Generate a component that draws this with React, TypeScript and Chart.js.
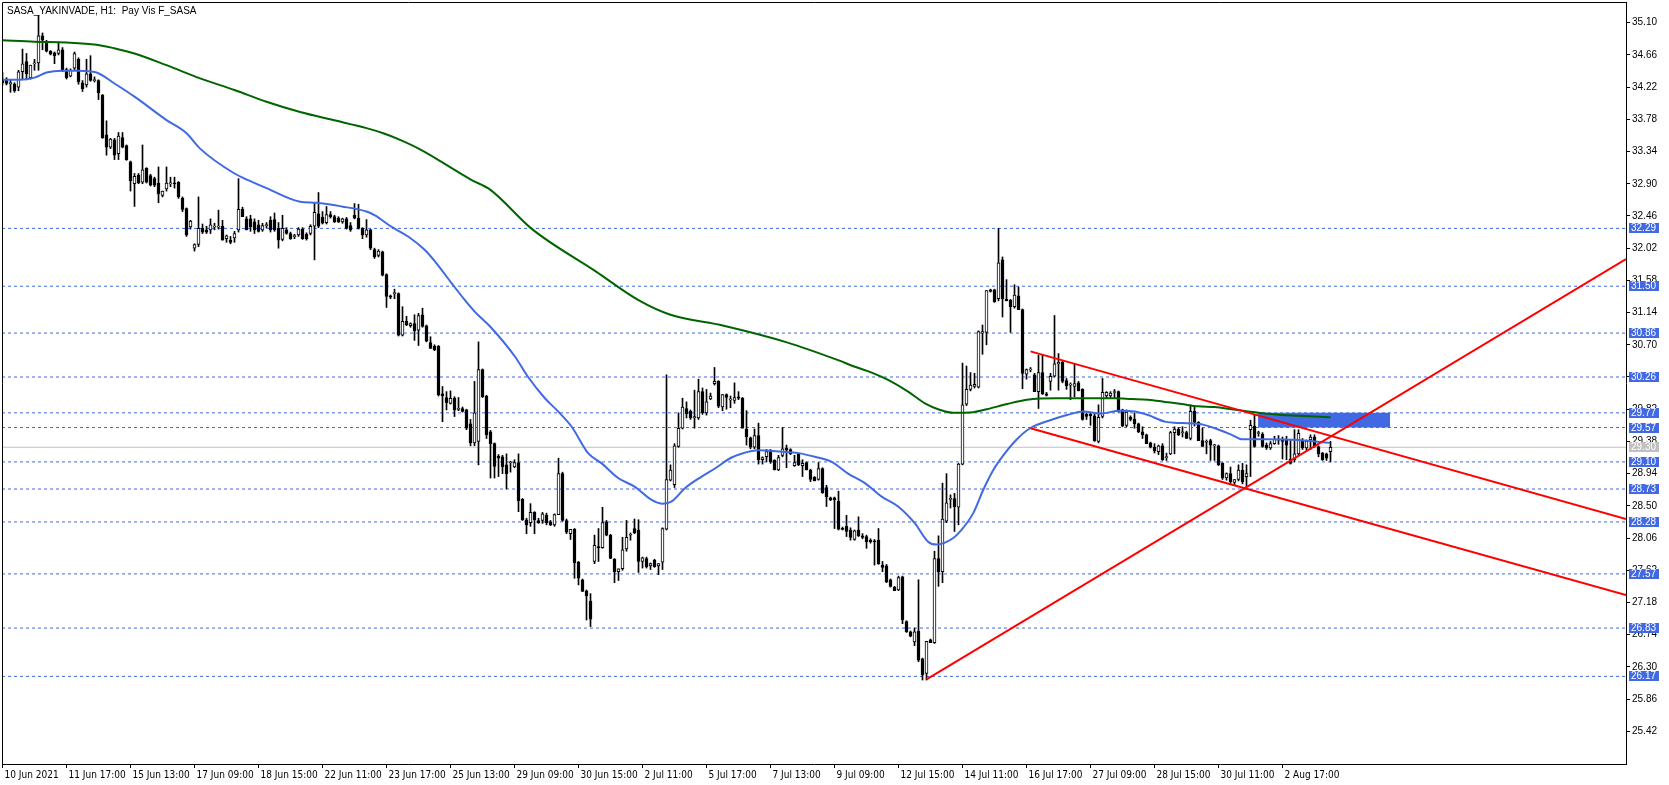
import React, { useEffect, useRef } from 'react';
import { Chart, registerables } from 'chart.js';

Chart.register(...registerables);

const TITLE = 'SASA_YAKINVADE, H1:  Pay Vis F_SASA';

const TIME_LABELS = [
  '10 Jun 2021', '11 Jun 17:00', '15 Jun 13:00', '17 Jun 09:00', '18 Jun 15:00', '22 Jun 11:00',
  '23 Jun 17:00', '25 Jun 13:00', '29 Jun 09:00', '30 Jun 15:00', '2 Jul 11:00', '5 Jul 17:00',
  '7 Jul 13:00', '9 Jul 09:00', '12 Jul 15:00', '14 Jul 11:00', '16 Jul 17:00', '27 Jul 09:00',
  '28 Jul 15:00', '30 Jul 11:00', '2 Aug 17:00',
];
const BARS_PER_LABEL = 16;

const PRICE_TICKS = [
  35.10, 34.66, 34.22, 33.78, 33.34, 32.90, 32.46, 32.02, 31.58, 31.14, 30.70, 30.26,
  29.82, 29.38, 28.94, 28.50, 28.06, 27.62, 27.18, 26.74, 26.30, 25.86, 25.42,
];

const LEVELS = [32.29, 31.50, 30.86, 30.26, 29.77, 29.57, 29.10, 28.73, 28.28, 27.57, 26.83, 26.17];
const LAST_PRICE = 29.30;

// [open, high, low, close] per H1 bar
const CANDLES: number[][] = [
  [34.33,34.42,34.25,34.28],[34.32,34.35,34.25,34.27],[34.27,34.32,34.15,34.28],[34.26,34.28,34.15,34.17],
  [34.22,34.45,34.17,34.43],[34.43,34.74,34.32,34.54],[34.57,34.68,34.32,34.40],[34.35,34.52,34.33,34.52],
  [34.54,34.60,34.45,34.55],[34.55,35.20,34.45,34.92],[34.92,34.96,34.73,34.86],[34.84,34.86,34.70,34.71],
  [34.71,34.72,34.66,34.67],[34.69,34.70,34.54,34.65],[34.68,34.83,34.66,34.73],[34.73,34.76,34.43,34.46],
  [34.46,34.48,34.33,34.35],[34.37,34.47,34.36,34.45],[34.48,34.70,34.46,34.68],[34.60,34.62,34.26,34.29],
  [34.28,34.31,34.16,34.20],[34.25,34.60,34.22,34.40],[34.40,34.65,34.30,34.31],[34.31,34.36,34.29,34.32],
  [34.31,34.32,34.05,34.14],[34.11,34.12,33.52,33.53],[33.57,33.76,33.29,33.40],[33.40,33.52,33.38,33.51],
  [33.50,33.52,33.23,33.29],[33.31,33.60,33.23,33.55],[33.53,33.60,33.39,33.40],[33.42,33.43,33.22,33.23],
  [33.20,33.21,32.80,32.94],[32.90,33.04,32.59,33.00],[33.02,33.04,32.90,32.91],[32.92,33.43,32.90,33.09],
  [33.11,33.12,32.91,32.92],[33.01,33.03,32.87,32.88],[32.97,32.99,32.86,32.88],[32.91,33.13,32.64,32.76],
  [32.74,32.80,32.72,32.80],[32.83,33.13,32.80,32.91],[32.90,32.99,32.86,32.91],[32.91,32.99,32.84,32.90],
  [32.92,32.93,32.70,32.72],[32.70,32.72,32.52,32.55],[32.56,32.57,32.18,32.20],[32.31,32.40,32.28,32.39],
  [32.02,32.08,31.98,32.07],[32.07,32.72,32.04,32.29],[32.29,32.35,32.22,32.24],[32.27,32.32,32.22,32.24],
  [32.27,32.42,32.22,32.34],[32.31,32.36,32.27,32.32],[32.31,32.54,32.28,32.32],[32.32,32.40,32.13,32.13],
  [32.15,32.20,32.10,32.19],[32.13,32.18,32.08,32.10],[32.16,32.25,32.10,32.22],[32.27,32.97,32.24,32.55],
  [32.55,32.58,32.45,32.45],[32.42,32.45,32.27,32.27],[32.42,32.47,32.25,32.31],[32.38,32.42,32.22,32.27],
  [32.34,32.40,32.24,32.25],[32.27,32.36,32.25,32.33],[32.33,32.37,32.30,32.34],[32.40,32.45,32.24,32.27],
  [32.41,32.50,32.25,32.27],[32.29,32.37,32.02,32.13],[32.14,32.47,32.12,32.29],[32.27,32.30,32.21,32.22],
  [32.22,32.24,32.14,32.15],[32.18,32.21,32.15,32.19],[32.20,32.30,32.18,32.28],[32.28,32.30,32.14,32.15],
  [32.21,32.23,32.13,32.15],[32.22,32.34,32.20,32.32],[32.32,32.63,31.86,32.51],[32.49,32.78,32.30,32.32],
  [32.44,32.52,32.35,32.36],[32.37,32.59,32.35,32.48],[32.48,32.52,32.43,32.45],[32.45,32.47,32.37,32.38],
  [32.43,32.45,32.37,32.38],[32.38,32.43,32.36,32.42],[32.42,32.44,32.28,32.29],[32.33,32.37,32.25,32.27],
  [32.47,32.63,32.42,32.43],[32.43,32.62,32.28,32.29],[32.29,32.30,32.15,32.20],[32.20,32.41,32.17,32.27],
  [32.27,32.28,32.00,32.02],[32.00,32.02,31.88,31.90],[31.92,32.00,31.90,31.98],[31.97,31.98,31.64,31.65],
  [31.66,31.67,31.21,31.36],[31.37,31.38,31.33,31.35],[31.40,31.46,31.33,31.41],[31.40,31.41,30.82,30.83],
  [30.83,31.22,30.82,31.02],[31.02,31.09,30.96,30.97],[30.96,31.00,30.94,30.99],[30.99,31.11,30.76,30.89],
  [30.90,31.13,30.69,31.10],[31.11,31.20,30.94,30.95],[30.96,30.97,30.74,30.75],[30.73,30.81,30.65,30.65],
  [30.68,30.70,30.62,30.63],[30.68,30.69,30.00,30.02],[30.03,30.13,29.65,30.00],[29.98,30.06,29.81,29.91],
  [29.90,30.07,29.89,29.97],[29.97,29.99,29.72,29.81],[29.82,29.98,29.80,29.83],[29.83,29.85,29.78,29.79],
  [29.81,29.82,29.54,29.56],[29.62,29.68,29.32,29.36],[29.36,30.20,29.32,29.77],[29.38,30.74,29.06,30.36],
  [30.36,30.37,29.98,29.99],[30.00,30.01,29.42,29.47],[29.51,29.53,28.88,29.35],[29.35,29.36,28.88,29.04],
  [29.18,29.20,28.90,29.15],[29.17,29.19,28.94,29.03],[29.06,29.21,28.73,28.94],[29.09,29.11,28.96,29.10],
  [29.03,29.13,29.02,29.09],[29.09,29.21,28.42,28.57],[28.59,28.60,28.30,28.31],[28.31,28.33,28.12,28.24],
  [28.27,28.53,28.22,28.41],[28.41,28.42,28.12,28.31],[28.30,28.33,28.26,28.27],[28.30,28.41,28.26,28.39],
  [28.37,28.40,28.24,28.27],[28.28,28.30,28.23,28.24],[28.24,28.39,28.22,28.38],[28.38,29.15,28.38,28.94],
  [28.94,28.96,28.29,28.30],[28.30,28.32,28.12,28.14],[28.12,28.18,28.04,28.18],[28.18,28.19,27.51,27.72],
  [27.73,27.74,27.42,27.51],[27.49,27.50,27.33,27.33],[27.34,27.35,26.94,27.27],[27.20,27.30,26.85,26.95],
  [27.74,28.10,27.71,27.96],[27.94,28.19,27.74,27.93],[27.93,28.48,27.92,28.27],[28.28,28.30,28.09,28.10],
  [28.10,28.11,27.78,27.78],[27.77,27.78,27.45,27.60],[27.60,27.64,27.48,27.64],[27.64,28.07,27.62,27.90],
  [27.91,28.30,27.88,28.07],[28.10,28.13,28.03,28.11],[28.19,28.32,28.12,28.13],[28.17,28.31,27.59,27.74],
  [27.74,27.80,27.65,27.79],[27.78,27.80,27.65,27.67],[27.68,27.72,27.63,27.71],[27.76,27.77,27.66,27.67],
  [27.68,27.71,27.56,27.71],[27.73,28.20,27.63,28.19],[28.18,30.29,28.17,28.86],[28.85,29.06,28.84,28.99],
  [28.79,29.35,28.75,29.32],[29.31,29.77,29.30,29.56],[29.56,29.97,29.55,29.85],[29.83,29.92,29.70,29.76],
  [29.79,29.81,29.68,29.70],[29.70,30.08,29.56,29.72],[29.70,30.23,29.68,30.06],[30.06,30.11,29.75,29.77],
  [29.77,30.09,29.74,29.92],[29.96,30.04,29.95,30.00],[30.17,30.39,30.15,30.20],[30.20,30.21,29.84,29.86],
  [29.85,30.02,29.80,30.02],[30.02,30.03,29.82,29.98],[29.95,30.00,29.84,29.96],[29.94,30.18,29.90,29.98],
  [29.99,30.06,29.95,29.97],[29.97,29.98,29.56,29.56],[29.55,29.80,29.33,29.44],[29.43,29.44,29.28,29.30],
  [29.30,29.55,29.28,29.46],[29.46,29.63,29.07,29.13],[29.13,29.17,29.07,29.16],[29.17,29.27,29.10,29.24],
  [29.25,29.27,29.08,29.10],[29.12,29.13,28.99,28.99],[28.99,29.19,28.98,29.16],[29.19,29.57,29.17,29.28],
  [29.29,29.33,29.02,29.26],[29.27,29.28,29.20,29.21],[29.05,29.19,29.04,29.09],[29.21,29.22,29.05,29.06],
  [29.05,29.13,28.90,29.08],[29.09,29.10,28.99,28.99],[28.99,29.00,28.83,28.86],[28.89,28.90,28.84,28.84],
  [28.86,29.09,28.85,29.01],[29.01,29.02,28.67,28.68],[28.75,28.78,28.49,28.62],[28.61,28.62,28.57,28.58],
  [28.61,28.62,28.19,28.58],[28.56,28.70,28.17,28.18],[28.19,28.21,28.17,28.18],[28.22,28.37,28.08,28.15],
  [28.17,28.20,28.03,28.07],[28.04,28.17,28.03,28.16],[28.17,28.35,28.08,28.09],[28.09,28.12,28.05,28.07],
  [28.08,28.10,27.92,28.01],[28.03,28.05,27.99,28.01],[28.02,28.04,27.69,28.01],[28.03,28.19,27.70,27.71],
  [27.69,27.74,27.60,27.66],[27.68,27.70,27.45,27.46],[27.49,27.50,27.39,27.40],[27.39,27.40,27.34,27.34],
  [27.35,27.54,27.34,27.52],[27.53,27.54,26.89,26.94],[26.92,26.93,26.77,26.78],[26.78,26.79,26.71,26.72],
  [26.64,26.83,26.59,26.78],[26.79,27.49,26.37,26.39],[26.41,26.42,26.12,26.19],[26.21,26.65,26.12,26.65],
  [26.67,26.68,26.63,26.63],[26.63,27.88,26.62,27.78],[27.78,28.09,27.40,27.60],[27.60,28.81,27.45,28.32],
  [28.29,28.94,28.27,28.54],[28.59,28.65,28.47,28.60],[28.60,28.67,28.15,28.49],[28.48,29.08,28.24,29.07],
  [29.07,30.45,29.06,29.88],[29.89,30.41,29.87,30.09],[30.09,30.32,30.07,30.15],[30.13,30.31,30.11,30.16],
  [30.12,30.89,30.11,30.88],[30.86,30.97,30.57,30.88],[30.87,31.44,30.70,31.44],[31.45,31.46,31.42,31.43],
  [31.45,31.46,31.28,31.29],[31.33,32.29,31.30,31.82],[31.86,31.90,31.08,31.33],[31.32,31.59,31.30,31.30],
  [31.31,31.32,30.87,31.22],[31.22,31.52,31.20,31.38],[31.37,31.49,31.18,31.18],[31.18,31.19,30.10,30.31],
  [30.30,30.37,30.23,30.36],[30.36,30.39,30.33,30.37],[30.29,30.31,30.06,30.06],[30.06,30.56,29.83,30.32],
  [30.32,30.56,30.02,30.03],[30.03,30.05,30.00,30.01],[30.20,30.31,30.08,30.27],[30.27,31.10,30.26,30.44],
  [30.44,30.58,30.08,30.46],[30.46,30.48,30.18,30.20],[30.21,30.24,30.09,30.14],[30.15,30.18,29.95,30.16],
  [30.13,30.44,29.99,30.17],[30.18,30.20,30.07,30.07],[30.09,30.10,29.67,29.68],[29.75,29.77,29.68,29.72],
  [29.75,29.77,29.60,29.73],[29.73,29.76,29.38,29.39],[29.38,29.88,29.36,29.71],[29.72,30.24,29.70,30.05],
  [30.00,30.06,29.97,30.05],[30.00,30.06,29.98,30.04],[30.05,30.09,29.97,30.06],[30.06,30.07,29.78,29.79],
  [29.81,29.82,29.58,29.59],[29.60,29.81,29.58,29.78],[29.71,29.73,29.66,29.68],[29.68,29.77,29.56,29.62],
  [29.62,29.63,29.50,29.51],[29.51,29.58,29.42,29.47],[29.47,29.48,29.35,29.35],[29.36,29.37,29.29,29.30],
  [29.30,29.35,29.22,29.25],[29.24,29.33,29.20,29.32],[29.32,29.35,29.12,29.13],[29.16,29.22,29.12,29.17],
  [29.21,29.52,29.20,29.50],[29.50,29.58,29.21,29.55],[29.55,29.57,29.46,29.47],[29.50,29.58,29.44,29.51],
  [29.50,29.52,29.42,29.42],[29.42,29.88,29.40,29.79],[29.79,29.86,29.59,29.64],[29.64,29.65,29.39,29.39],
  [29.39,29.56,29.31,29.31],[29.37,29.40,29.21,29.38],[29.39,29.41,29.12,29.33],[29.32,29.34,29.12,29.33],
  [29.32,29.33,29.05,29.06],[29.08,29.09,28.86,28.88],[28.88,28.95,28.85,28.94],[28.94,29.03,28.80,28.83],
  [28.82,28.86,28.78,28.86],[28.86,29.06,28.84,28.99],[28.99,29.08,28.80,28.83],[28.90,29.06,28.76,28.94],
  [29.54,29.67,28.90,29.60],[29.59,29.74,29.30,29.31],[29.49,29.52,29.45,29.50],[29.48,29.50,29.30,29.31],
  [29.33,29.36,29.27,29.29],[29.29,29.38,29.27,29.35],[29.35,29.45,29.34,29.41],[29.40,29.46,29.34,29.41],
  [29.40,29.44,29.14,29.38],[29.40,29.45,29.13,29.33],[29.14,29.40,29.07,29.08],[29.13,29.54,29.10,29.21],
  [29.21,29.54,29.19,29.49],[29.38,29.42,29.27,29.29],[29.29,29.40,29.26,29.38],[29.40,29.47,29.27,29.44],
  [29.44,29.47,29.30,29.32],[29.31,29.32,29.17,29.21],[29.22,29.23,29.12,29.13],[29.21,29.22,29.12,29.15],
  [29.24,29.38,29.10,29.30],
];

// moving averages read as [bar index, value]
const BLUE_MA: number[][] = [
  [0,34.32],[4,34.32],[8,34.35],[11,34.42],[15,34.445],[19,34.445],[23.5,34.42],[28,34.27],[33,34.09],
  [41,33.77],[46,33.59],[49.4,33.38],[58,33.04],[61.4,32.95],[66,32.84],[74.4,32.655],[78.5,32.64],
  [84.8,32.59],[91,32.52],[93,32.47],[97.3,32.31],[101.4,32.18],[105.6,31.995],[108.1,31.84],[112.3,31.54],
  [115.6,31.31],[118.1,31.15],[121.9,30.95],[128.1,30.54],[131.4,30.26],[135.6,29.97],[138.9,29.79],
  [142.3,29.58],[146.4,29.22],[149.8,29.08],[153.9,28.88],[158.1,28.76],[162.3,28.58],[164.8,28.53],
  [167.3,28.56],[170.6,28.74],[174.8,28.90],[178.1,29.01],[182.3,29.16],[187.3,29.25],[189,29.26],
  [194.8,29.24],[198.9,29.22],[203.1,29.17],[207.3,29.10],[211.4,28.94],[215.6,28.81],[219.8,28.625],
  [223.9,28.49],[228.1,28.26],[231.4,28.01],[233.5,27.97],[237.7,28.06],[239.4,28.15],[242.7,28.40],
  [245.2,28.72],[247.7,28.99],[250.2,29.19],[253.6,29.41],[256.9,29.56],[261.9,29.67],[266.1,29.74],
  [270.2,29.79],[274.4,29.76],[279.4,29.80],[283.1,29.79],[286.4,29.74],[290.6,29.65],[294.8,29.63],
  [298.9,29.62],[303.1,29.56],[307.3,29.47],[309.8,29.41],[315.6,29.41],[324,29.40],[328.1,29.38],
  [331.9,29.36],
];
const GREEN_MA: number[][] = [
  [0,34.86],[8,34.84],[16,34.83],[23.5,34.80],[28,34.75],[33,34.68],[41,34.52],[49.4,34.34],[58,34.18],
  [66,34.02],[74.4,33.88],[82.7,33.77],[91,33.66],[95.2,33.59],[99.4,33.50],[104.4,33.37],[117.3,32.95],
  [121.9,32.82],[132.4,32.28],[148.4,31.70],[159,31.31],[167,31.11],[180.3,30.96],[196.3,30.73],
  [208.9,30.49],[213.1,30.40],[217.3,30.32],[221.4,30.22],[226.4,30.06],[230.6,29.90],[234.4,29.81],
  [237.7,29.77],[242.7,29.78],[246.1,29.82],[251.1,29.89],[256.1,29.95],[263.6,29.97],[271.9,29.97],
  [278.1,29.97],[282.3,29.96],[286.4,29.95],[290.6,29.92],[294.8,29.89],[298.9,29.86],[303.1,29.85],
  [307.3,29.82],[311.4,29.79],[315.6,29.76],[319.8,29.74],[324,29.73],[328.1,29.72],[332,29.71],
];

// trend lines as [bar index, price] end points
const TREND_UP: number[][] = [[231, 26.13], [405.875, 31.87]];
const CHANNEL_TOP: number[][] = [[257, 30.61], [405.875, 28.32]];
const CHANNEL_BOTTOM: number[][] = [[257, 29.56], [405.875, 27.28]];

// resistance zone
const ZONE_X = [313.9, 346.9];
const ZONE_Y = [29.57, 29.77];

const X_MIN = -0.125;
const X_MAX = 405.875;
const Y_MIN = 24.973;
const Y_MAX = 35.383;

const BLUE = '#4169E1';
const AXIS_FONT = '"Liberation Sans", Arial, sans-serif';

export default function App() {
  const ref = useRef<HTMLCanvasElement | null>(null);

  useEffect(() => {
    document.body.style.margin = '0';
    const canvas = ref.current;
    if (!canvas) return;

    const pts = (arr: number[][]) => arr.map(([x, y]) => ({ x, y }));

    const levelSets = LEVELS.map((l) => ({
      type: 'line',
      data: [{ x: X_MIN, y: l }, { x: X_MAX, y: l }],
      borderColor: BLUE,
      borderWidth: 1,
      borderDash: [3, 3],
      pointRadius: 0,
      fill: false,
      order: 6,
    }));

    const wickData = CANDLES.map(([, h, l], i) => ({ x: i, y: [l, h] }));
    const bodyData = CANDLES.map(([o, , , c], i) => {
      let lo = Math.min(o, c);
      let hi = Math.max(o, c);
      if (hi - lo < 0.014) {
        const mid = (hi + lo) / 2;
        lo = mid - 0.007;
        hi = mid + 0.007;
      }
      return { x: i, y: [lo, hi] };
    });
    const bodyColors = CANDLES.map(([o, , , c]) => (c >= o ? '#ffffff' : '#000000'));

    const overlay = {
      id: 'overlay',
      afterDraw(chart: any) {
        const { ctx, chartArea: a, scales } = chart;
        const y = scales.y;
        ctx.save();
        ctx.strokeStyle = '#000';
        ctx.lineWidth = 1;
        ctx.beginPath();
        ctx.moveTo(a.left + 0.5, a.bottom);
        ctx.lineTo(a.left + 0.5, a.top + 0.5);
        ctx.lineTo(a.right, a.top + 0.5);
        ctx.stroke();

        ctx.fillStyle = '#000';
        ctx.font = '10px ' + AXIS_FONT;
        ctx.textBaseline = 'alphabetic';
        ctx.textAlign = 'left';
        ctx.fillText(TITLE, 7, 13.5);

        const boxes: [number, string][] = LEVELS.map((v) => [v, BLUE] as [number, string]);
        boxes.push([LAST_PRICE, '#C0C0C0']);
        ctx.textBaseline = 'middle';
        for (const [v, col] of boxes) {
          const py = Math.round(y.getPixelForValue(v));
          ctx.fillStyle = col;
          ctx.fillRect(a.right + 3, py - 5, 30, 10);
          ctx.fillStyle = '#ffffff';
          ctx.fillText(v.toFixed(2), a.right + 5, py + 0.5);
        }
        ctx.restore();
      },
    };

    const chart = new Chart(canvas, {
      type: 'bar',
      data: {
        datasets: [
          {
            type: 'line',
            data: [{ x: ZONE_X[0], y: ZONE_Y[1] }, { x: ZONE_X[1], y: ZONE_Y[1] }],
            borderWidth: 0,
            borderColor: BLUE,
            backgroundColor: BLUE,
            pointRadius: 0,
            fill: { value: ZONE_Y[0] },
            order: 7,
          },
          ...levelSets,
          {
            type: 'line',
            data: [{ x: X_MIN, y: LAST_PRICE }, { x: X_MAX, y: LAST_PRICE }],
            borderColor: '#C0C0C0',
            borderWidth: 1,
            pointRadius: 0,
            fill: false,
            order: 6,
          },
          {
            type: 'bar',
            data: wickData,
            backgroundColor: '#000000',
            borderWidth: 0,
            barThickness: 1,
            grouped: false,
            order: 4,
          },
          {
            type: 'bar',
            data: bodyData,
            backgroundColor: bodyColors,
            borderColor: '#000000',
            borderWidth: 1,
            borderSkipped: false,
            barThickness: 3,
            grouped: false,
            order: 3,
          },
          {
            type: 'line',
            data: pts(GREEN_MA),
            borderColor: '#006400',
            borderWidth: 2,
            pointRadius: 0,
            cubicInterpolationMode: 'monotone',
            fill: false,
            order: 2,
          },
          {
            type: 'line',
            data: pts(BLUE_MA),
            borderColor: BLUE,
            borderWidth: 2,
            pointRadius: 0,
            cubicInterpolationMode: 'monotone',
            fill: false,
            order: 1,
          },
          ...[TREND_UP, CHANNEL_TOP, CHANNEL_BOTTOM].map((l) => ({
            type: 'line',
            data: pts(l),
            borderColor: '#FF0000',
            borderWidth: 2,
            pointRadius: 0,
            fill: false,
            order: 0,
          })),
        ] as any,
      },
      options: {
        responsive: false,
        animation: false,
        events: [],
        layout: { padding: { left: 2, top: 2, right: 0, bottom: 0 } },
        plugins: {
          legend: { display: false },
          tooltip: { enabled: false },
          title: { display: false },
        },
        scales: {
          x: {
            type: 'linear',
            position: 'bottom',
            min: X_MIN,
            max: X_MAX,
            offset: false,
            grid: { drawOnChartArea: false, drawTicks: true, tickLength: 4, color: '#000', offset: false },
            border: { display: true, color: '#000', width: 1 },
            ticks: {
              autoSkip: false,
              maxRotation: 0,
              minRotation: 0,
              align: 'start',
              labelOffset: 2,
              padding: 1,
              color: '#000',
              font: { family: '"Liberation Sans Narrow", "DejaVu Sans Condensed", "Liberation Sans", sans-serif', size: 10 },
              callback: (v: any) => TIME_LABELS[Math.round(Number(v) / BARS_PER_LABEL)] ?? '',
            },
            afterBuildTicks: (s: any) => {
              s.ticks = TIME_LABELS.map((_, k) => ({ value: k * BARS_PER_LABEL }));
            },
            afterFit: (s: any) => {
              s.height = 21;
              s.paddingLeft = 0;
              s.paddingRight = 0;
              s.paddingTop = 0;
              s.paddingBottom = 0;
            },
          },
          y: {
            type: 'linear',
            position: 'right',
            min: Y_MIN,
            max: Y_MAX,
            grid: { drawOnChartArea: false, drawTicks: true, tickLength: 4, color: '#000' },
            border: { display: true, color: '#000', width: 1 },
            ticks: {
              autoSkip: false,
              padding: 2,
              color: '#000',
              font: { family: AXIS_FONT, size: 10 },
              callback: (v: any) => Number(v).toFixed(2),
            },
            afterBuildTicks: (s: any) => {
              s.ticks = PRICE_TICKS.map((v) => ({ value: v }));
            },
            afterFit: (s: any) => {
              s.width = 43;
              s.paddingLeft = 0;
              s.paddingRight = 0;
              s.paddingTop = 0;
              s.paddingBottom = 0;
            },
          },
        },
      } as any,
      plugins: [overlay],
    });

    return () => chart.destroy();
  }, []);

  return (
    <div style={{ width: 1669, height: 785 }}>
      <canvas ref={ref} width={1669} height={785} style={{ display: 'block' }} />
    </div>
  );
}
